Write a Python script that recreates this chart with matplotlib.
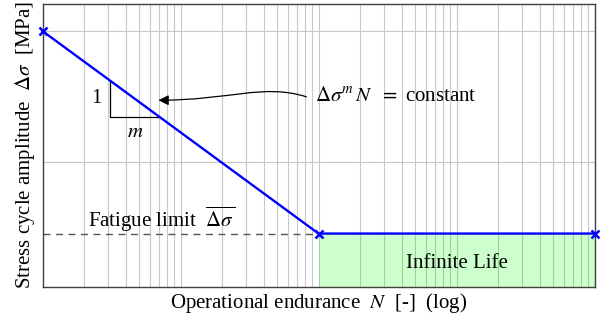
import numpy as np
import matplotlib.pyplot as plt
from matplotlib.patches import FancyArrowPatch
from matplotlib.path import Path

plt.rcParams['font.family'] = ['Liberation Serif', 'DejaVu Serif']
plt.rcParams['mathtext.fontset'] = 'stix'

# S-N curve points (N [-], stress amplitude)
N_pts = [1e3, 1e5, 1e7]
S_pts = [200, 45, 45]
fatigue_limit = 45

# slope triangle corners
tri_N = [10**3.489, 10**3.489, 10**3.851]
tri_S = [162, 134, 134]

fs = 15

fig = plt.figure(figsize=(6.06, 3.22), dpi=100)
ax = fig.add_axes([42.5/606, 1 - 287/322, 552/606, 283/322])
ax.set_xscale('log')
ax.set_xlim(1e3, 1e7)
ax.set_ylim(4.1, 220.7)
ax.set_yticks([100, 200])
ax.tick_params(which='both', length=0, labelbottom=False, labelleft=False)
ax.grid(True, which='both', axis='x', color='#c8c8c8', linewidth=0.8)
ax.grid(True, which='major', axis='y', color='#c8c8c8', linewidth=0.8)
ax.set_axisbelow(True)
for sp in ax.spines.values():
    sp.set_color('#404040')
    sp.set_linewidth(1.0)

# infinite life region
ax.fill_between([N_pts[1], N_pts[2]], 4.1, fatigue_limit, color='#00ff00', alpha=0.2, linewidth=0)
ax.text(1e6, 22, 'Infinite Life', ha='center', va='center', fontsize=fs)

# fatigue limit
ax.plot([N_pts[0], N_pts[1]], [fatigue_limit, fatigue_limit], color='#555555', linestyle=(0, (5, 4)), linewidth=1.0)
ax.text(10**3.33, 56, r'Fatigue limit  $\overline{\Delta\sigma\,}$', ha='left', va='center', fontsize=fs)

# curve
ax.plot(N_pts, S_pts, color='blue', linewidth=1.7, marker='x', markersize=6, markeredgewidth=1.8, clip_on=False, zorder=5)

# slope triangle
ax.plot(tri_N, tri_S, color='black', linewidth=0.9)
ax.text(10**3.43, 148, '1', ha='right', va='center', fontsize=fs)
ax.text(10**3.67, 122, '$m$', ha='center', va='center', fontsize=fs)

ax.text(0.494, 0.672, r'$\Delta\sigma^{m}\,N\ \ =\ $constant', transform=ax.transAxes,
        ha='left', va='center', fontsize=fs)

# curvy arrow
verts = [(0.478, 0.672), (0.40, 0.72), (0.34, 0.66), (0.21, 0.66)]
codes = [Path.MOVETO, Path.CURVE4, Path.CURVE4, Path.CURVE4]
arr = FancyArrowPatch(path=Path(verts, codes), transform=ax.transAxes,
                      arrowstyle='-|>,head_length=6,head_width=3', color='black', linewidth=0.9)
ax.add_patch(arr)

ax.set_xlabel(r'Operational endurance  $N$  [-]  (log)', fontsize=fs, labelpad=3)
ax.set_ylabel(r'Stress cycle amplitude  $\Delta\sigma$  [MPa]', fontsize=fs, labelpad=4)

fig.savefig('out.png', dpi=100)
